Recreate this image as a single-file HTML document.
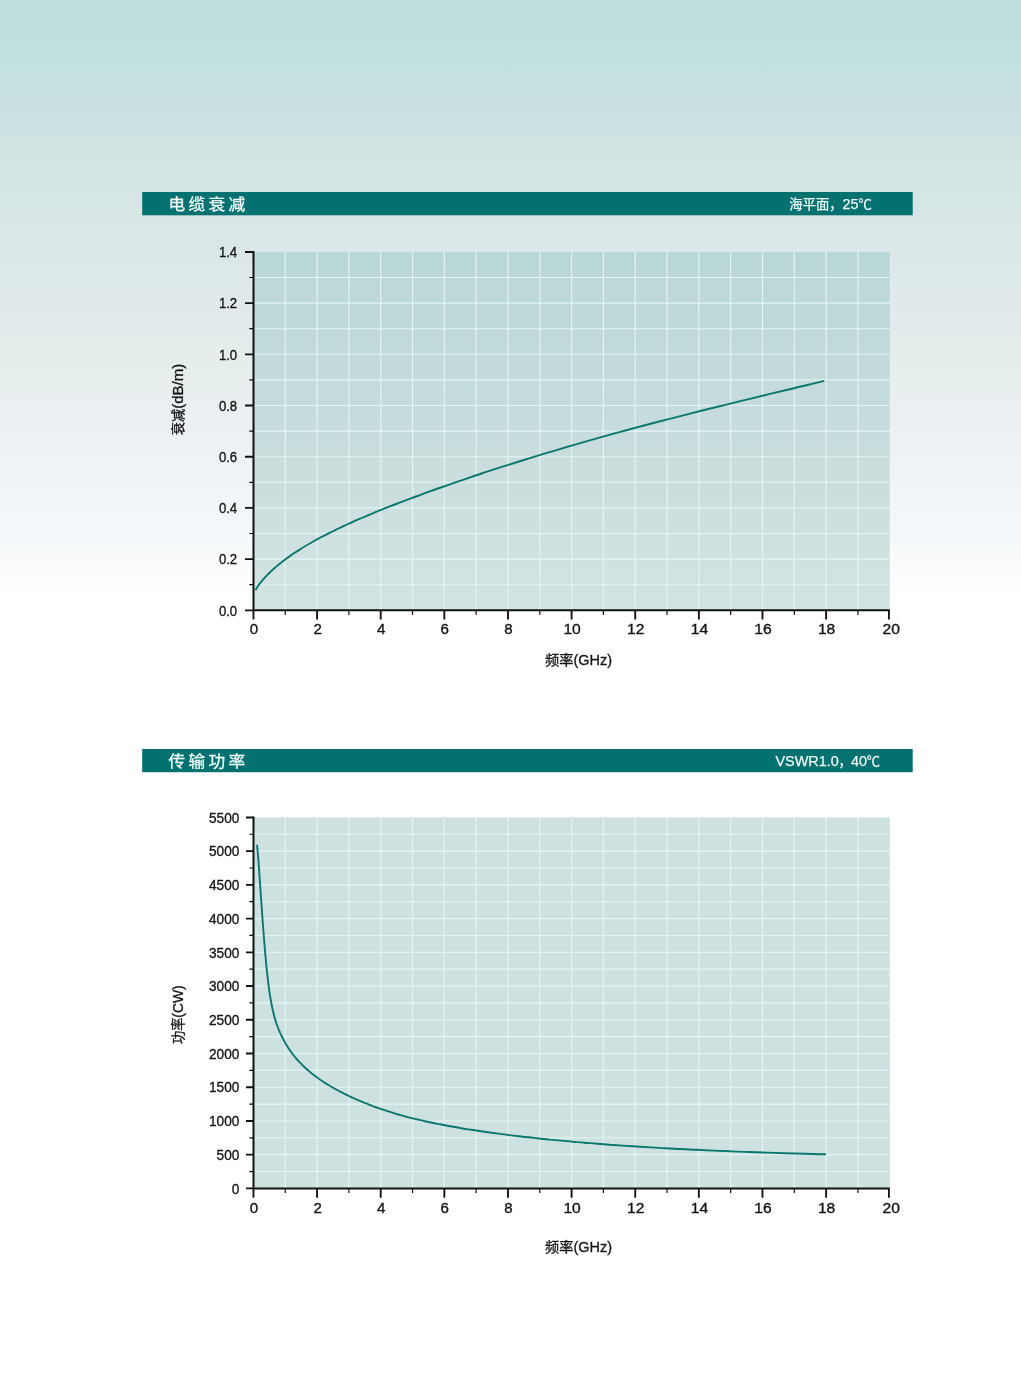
<!DOCTYPE html>
<html lang="zh-CN">
<head>
<meta charset="utf-8">
<title>电缆衰减 / 传输功率</title>
<style>
html,body{margin:0;padding:0;}
body{width:1021px;height:1374px;overflow:hidden;background:#fff;font-family:"Liberation Sans","Noto Sans CJK SC",sans-serif;}
#page{position:relative;width:1021px;height:1374px;overflow:hidden;
background:linear-gradient(to bottom,#bfe0df 0px,#c1e0e0 50px,#c9e1e2 100px,#d0e3e2 150px,#d6e6e5 200px,#dbe7e7 250px,#e0eaea 300px,#e7eeee 375px,#edf2f4 450px,#f3f7f9 520px,#f9fbfc 560px,#ffffff 595px,#ffffff 1374px);}
svg{position:absolute;left:0;top:0;display:block;}
text{font-family:"Liberation Sans","Noto Sans CJK SC",sans-serif;}
.tk{font-size:15.2px;fill:#141414;stroke:#141414;stroke-width:0.35px;}
.cj{font-family:"Noto Sans CJK SC","Liberation Sans",sans-serif;}
.ttl{font-size:15.6px;fill:#f0fbf9;letter-spacing:3.05px;stroke:#f0fbf9;stroke-width:0.3px;}
.sub{fill:#ecf8f6;stroke:#ecf8f6;stroke-width:0.25px;}
.ax{stroke:#111;stroke-width:2;fill:none;}
.mj{stroke:#111;stroke-width:1.85;fill:none;}
.mn{stroke:#111;stroke-width:1.2;fill:none;}
.gr{stroke:#e4f6f4;stroke-width:1.1;fill:none;}
.cv{stroke:#0a766e;stroke-width:1.9;fill:none;stroke-linecap:butt;stroke-linejoin:round;}
.lb{fill:#141414;stroke:#141414;stroke-width:0.3px;}
</style>
</head>
<body>
<div id="page">
<svg width="1021" height="1374" viewBox="0 0 1021 1374">
<defs>
<linearGradient id="pg1" x1="0" y1="0" x2="0" y2="1">
<stop offset="0" stop-color="#b9d7d7"/><stop offset="0.5" stop-color="#c7dcdc"/><stop offset="1" stop-color="#d3e3e2"/>
</linearGradient>
</defs>

<!-- chart 1 header -->
<rect x="142.2" y="192.0" width="770.5" height="23.3" fill="#02716f"/>
<text class="ttl cj" transform="translate(168.6 209.6) scale(1.07 1)">电缆衰减</text>
<text class="sub" y="209.0"><tspan class="cj" x="789.2" font-size="13.4">海平面，</tspan><tspan x="842.6" font-size="14.5" textLength="16.0" lengthAdjust="spacingAndGlyphs">25</tspan><tspan class="cj" x="858.6" font-size="13.4">℃</tspan></text>
<!-- chart 1 -->
<rect x="253.5" y="251.9" width="636.3" height="358.4" fill="url(#pg1)"/>
<path class="gr" d="M285.26 251.9 V610.3 M317.08 251.9 V610.3 M348.89 251.9 V610.3 M380.71 251.9 V610.3 M412.52 251.9 V610.3 M444.34 251.9 V610.3 M476.15 251.9 V610.3 M507.97 251.9 V610.3 M539.79 251.9 V610.3 M571.60 251.9 V610.3 M603.41 251.9 V610.3 M635.23 251.9 V610.3 M667.05 251.9 V610.3 M698.86 251.9 V610.3 M730.67 251.9 V610.3 M762.49 251.9 V610.3 M794.31 251.9 V610.3 M826.12 251.9 V610.3 M857.93 251.9 V610.3 M253.5 277.50 H889.8 M253.5 303.10 H889.8 M253.5 328.70 H889.8 M253.5 354.30 H889.8 M253.5 379.90 H889.8 M253.5 405.50 H889.8 M253.5 431.10 H889.8 M253.5 456.70 H889.8 M253.5 482.30 H889.8 M253.5 507.90 H889.8 M253.5 533.50 H889.8 M253.5 559.10 H889.8 M253.5 584.70 H889.8"/>
<path class="cv" d="M255.6 590.0 C255.8 589.6 256.4 588.5 256.9 587.8 C257.3 587.0 257.9 586.2 258.4 585.4 C259.0 584.6 259.6 583.8 260.3 582.9 C260.9 582.1 261.7 581.2 262.4 580.3 C263.2 579.4 264.0 578.5 264.8 577.6 C265.7 576.6 266.6 575.7 267.6 574.7 C268.5 573.7 269.5 572.7 270.6 571.7 C271.6 570.7 272.7 569.7 273.8 568.7 C275.0 567.7 276.2 566.7 277.4 565.6 C278.7 564.6 280.0 563.5 281.3 562.5 C282.6 561.4 284.0 560.4 285.5 559.3 C286.9 558.2 288.4 557.1 289.9 556.1 C291.4 555.0 293.0 553.9 294.6 552.8 C296.3 551.7 297.9 550.7 299.7 549.6 C301.4 548.5 303.1 547.4 305.0 546.3 C306.8 545.2 308.6 544.1 310.6 543.0 C312.5 541.9 314.4 540.8 316.5 539.7 C318.5 538.6 320.5 537.5 322.6 536.4 C324.7 535.3 326.9 534.2 329.1 533.1 C331.3 532.0 333.5 530.9 335.8 529.8 C338.1 528.7 340.5 527.6 342.9 526.4 C345.3 525.3 347.7 524.2 350.2 523.1 C352.7 521.9 355.2 520.8 357.8 519.7 C360.4 518.6 363.1 517.4 365.7 516.3 C368.4 515.1 371.2 514.0 373.9 512.8 C376.7 511.7 379.5 510.5 382.4 509.4 C385.3 508.2 388.2 507.1 391.2 505.9 C394.2 504.7 397.2 503.6 400.3 502.4 C403.3 501.2 406.4 500.0 409.6 498.8 C412.8 497.7 416.0 496.5 419.3 495.3 C422.5 494.1 425.8 492.9 429.2 491.7 C432.5 490.4 435.9 489.2 439.4 488.0 C442.8 486.8 446.3 485.6 449.9 484.3 C453.4 483.1 457.0 481.8 460.7 480.6 C464.3 479.3 468.0 478.1 471.8 476.8 C475.5 475.6 479.3 474.3 483.1 473.0 C487.0 471.8 490.9 470.5 494.8 469.2 C498.7 467.9 502.7 466.7 506.8 465.4 C510.8 464.1 514.9 462.8 519.0 461.5 C523.1 460.2 527.3 458.9 531.5 457.6 C535.7 456.3 540.0 455.0 544.3 453.7 C548.6 452.4 553.0 451.1 557.4 449.8 C561.8 448.5 566.3 447.1 570.8 445.8 C575.3 444.5 579.9 443.2 584.5 441.9 C589.1 440.6 593.8 439.2 598.5 437.9 C603.2 436.6 607.9 435.3 612.7 433.9 C617.5 432.6 622.4 431.3 627.3 430.0 C632.2 428.6 637.1 427.3 642.1 426.0 C647.1 424.7 652.1 423.4 657.2 422.0 C662.3 420.7 667.4 419.4 672.6 418.1 C677.8 416.7 683.0 415.4 688.3 414.1 C693.6 412.7 698.9 411.4 704.3 410.0 C709.7 408.7 715.1 407.4 720.6 406.0 C726.1 404.6 731.6 403.3 737.2 401.9 C742.7 400.6 748.3 399.2 754.0 397.8 C759.7 396.4 765.4 395.1 771.1 393.7 C776.9 392.3 782.7 390.9 788.6 389.5 C794.4 388.0 800.3 386.6 806.3 385.2 C812.2 383.8 821.3 381.6 824.3 380.9"/>
<path class="ax" d="M253.5 251.0 V610.3 H889.8"/>
<path class="mj" d="M245.0 252.00 H253.5 M245.0 303.10 H253.5 M245.0 354.30 H253.5 M245.0 405.50 H253.5 M245.0 456.70 H253.5 M245.0 507.90 H253.5 M245.0 559.10 H253.5 M245.0 610.30 H253.5 M253.45 610.3 V619.6 M317.08 610.3 V619.6 M380.71 610.3 V619.6 M444.34 610.3 V619.6 M507.97 610.3 V619.6 M571.60 610.3 V619.6 M635.23 610.3 V619.6 M698.86 610.3 V619.6 M762.49 610.3 V619.6 M826.12 610.3 V619.6 M888.90 610.3 V619.6"/>
<path class="mn" d="M249.3 277.50 H253.5 M249.3 328.70 H253.5 M249.3 379.90 H253.5 M249.3 431.10 H253.5 M249.3 482.30 H253.5 M249.3 533.50 H253.5 M249.3 584.70 H253.5 M285.26 610.3 V614.9 M348.89 610.3 V614.9 M412.52 610.3 V614.9 M476.15 610.3 V614.9 M539.79 610.3 V614.9 M603.41 610.3 V614.9 M667.05 610.3 V614.9 M730.67 610.3 V614.9 M794.31 610.3 V614.9 M857.93 610.3 V614.9"/>
<text class="tk" x="218.9" y="615.5" textLength="18.3" lengthAdjust="spacingAndGlyphs">0.0</text>
<text class="tk" x="218.9" y="564.3" textLength="18.3" lengthAdjust="spacingAndGlyphs">0.2</text>
<text class="tk" x="218.9" y="513.1" textLength="18.3" lengthAdjust="spacingAndGlyphs">0.4</text>
<text class="tk" x="218.9" y="461.9" textLength="18.3" lengthAdjust="spacingAndGlyphs">0.6</text>
<text class="tk" x="218.9" y="410.7" textLength="18.3" lengthAdjust="spacingAndGlyphs">0.8</text>
<text class="tk" x="218.9" y="359.5" textLength="18.3" lengthAdjust="spacingAndGlyphs">1.0</text>
<text class="tk" x="218.9" y="308.3" textLength="18.3" lengthAdjust="spacingAndGlyphs">1.2</text>
<text class="tk" x="218.9" y="257.1" textLength="18.3" lengthAdjust="spacingAndGlyphs">1.4</text>
<text class="tk" x="249.8" y="634.4" textLength="8.4" lengthAdjust="spacingAndGlyphs">0</text>
<text class="tk" x="313.4" y="634.4" textLength="8.4" lengthAdjust="spacingAndGlyphs">2</text>
<text class="tk" x="377.0" y="634.4" textLength="8.4" lengthAdjust="spacingAndGlyphs">4</text>
<text class="tk" x="440.6" y="634.4" textLength="8.4" lengthAdjust="spacingAndGlyphs">6</text>
<text class="tk" x="504.3" y="634.4" textLength="8.4" lengthAdjust="spacingAndGlyphs">8</text>
<text class="tk" x="563.4" y="634.4" textLength="17.4" lengthAdjust="spacingAndGlyphs">10</text>
<text class="tk" x="627.0" y="634.4" textLength="17.4" lengthAdjust="spacingAndGlyphs">12</text>
<text class="tk" x="690.7" y="634.4" textLength="17.4" lengthAdjust="spacingAndGlyphs">14</text>
<text class="tk" x="754.3" y="634.4" textLength="17.4" lengthAdjust="spacingAndGlyphs">16</text>
<text class="tk" x="817.9" y="634.4" textLength="17.4" lengthAdjust="spacingAndGlyphs">18</text>
<text class="tk" x="882.5" y="634.4" textLength="17.4" lengthAdjust="spacingAndGlyphs">20</text>
<text class="lb" transform="translate(182.7 435.2) rotate(-90)" font-size="13.2"><tspan class="cj">衰减</tspan><tspan font-size="14.6" textLength="45.0" lengthAdjust="spacingAndGlyphs">(dB/m)</tspan></text>
<text class="lb" x="545.0" y="665.4" font-size="14.2"><tspan class="cj">频率</tspan><tspan font-size="14" textLength="38.6" lengthAdjust="spacingAndGlyphs">(GHz)</tspan></text>
<!-- chart 2 header -->
<rect x="142.2" y="749.0" width="770.5" height="23.2" fill="#02716f"/>
<text class="ttl cj" transform="translate(168.6 766.5) scale(1.07 1)">传输功率</text>
<text class="sub" y="765.9"><tspan x="775.4" font-size="14.5" textLength="63.4" lengthAdjust="spacingAndGlyphs">VSWR1.0</tspan><tspan class="cj" x="838.4" font-size="13.4">，</tspan><tspan x="851.0" font-size="14.5" textLength="16.0" lengthAdjust="spacingAndGlyphs">40</tspan><tspan class="cj" x="866.8" font-size="13.4">℃</tspan></text>
<!-- chart 2 -->
<rect x="253.5" y="817.4" width="636.3" height="371.0" fill="#cde2e0"/>
<path class="gr" d="M285.26 817.4 V1188.4 M317.08 817.4 V1188.4 M348.89 817.4 V1188.4 M380.71 817.4 V1188.4 M412.52 817.4 V1188.4 M444.34 817.4 V1188.4 M476.15 817.4 V1188.4 M507.97 817.4 V1188.4 M539.79 817.4 V1188.4 M571.60 817.4 V1188.4 M603.41 817.4 V1188.4 M635.23 817.4 V1188.4 M667.05 817.4 V1188.4 M698.86 817.4 V1188.4 M730.67 817.4 V1188.4 M762.49 817.4 V1188.4 M794.31 817.4 V1188.4 M826.12 817.4 V1188.4 M857.93 817.4 V1188.4 M253.5 834.26 H889.8 M253.5 851.13 H889.8 M253.5 867.99 H889.8 M253.5 884.85 H889.8 M253.5 901.72 H889.8 M253.5 918.58 H889.8 M253.5 935.45 H889.8 M253.5 952.31 H889.8 M253.5 969.17 H889.8 M253.5 986.04 H889.8 M253.5 1002.90 H889.8 M253.5 1019.76 H889.8 M253.5 1036.63 H889.8 M253.5 1053.49 H889.8 M253.5 1070.35 H889.8 M253.5 1087.22 H889.8 M253.5 1104.08 H889.8 M253.5 1120.95 H889.8 M253.5 1137.81 H889.8 M253.5 1154.67 H889.8 M253.5 1171.54 H889.8"/>
<path class="cv" d="M257.0 844.8 C257.0 845.0 257.1 845.5 257.1 846.0 C257.2 846.4 257.2 846.8 257.3 847.3 C257.3 847.7 257.4 848.2 257.4 848.7 C257.5 849.2 257.5 849.7 257.6 850.3 C257.6 850.8 257.7 851.4 257.7 852.0 C257.8 852.6 257.8 853.2 257.9 853.8 C257.9 854.5 258.0 855.1 258.0 855.8 C258.1 856.5 258.1 857.2 258.2 858.0 C258.3 858.7 258.3 859.5 258.4 860.3 C258.4 861.1 258.5 861.9 258.6 862.7 C258.6 863.5 258.7 864.4 258.8 865.3 C258.8 866.2 258.9 867.1 259.0 868.0 C259.0 868.9 259.1 869.9 259.2 870.9 C259.2 871.8 259.3 872.8 259.4 873.9 C259.4 874.9 259.5 875.9 259.6 877.0 C259.7 878.1 259.7 879.2 259.8 880.3 C259.9 881.4 260.0 882.6 260.1 883.7 C260.1 884.9 260.2 886.1 260.3 887.3 C260.4 888.5 260.5 889.8 260.6 891.0 C260.6 892.3 260.7 893.6 260.8 894.9 C260.9 896.2 261.0 897.5 261.1 898.8 C261.2 900.2 261.3 901.5 261.4 902.9 C261.5 904.3 261.6 905.7 261.7 907.1 C261.8 908.5 261.9 910.0 262.0 911.5 C262.1 912.9 262.2 914.4 262.3 915.9 C262.4 917.4 262.5 918.9 262.6 920.5 C262.7 922.0 262.9 923.5 263.0 925.1 C263.1 926.7 263.2 928.3 263.3 929.9 C263.5 931.5 263.6 933.1 263.7 934.7 C263.8 936.3 264.0 938.0 264.1 939.6 C264.2 941.3 264.3 942.9 264.5 944.6 C264.6 946.2 264.8 947.9 264.9 949.5 C265.0 951.2 265.2 952.8 265.3 954.5 C265.5 956.1 265.6 957.7 265.8 959.3 C265.9 961.0 266.1 962.6 266.2 964.2 C266.4 965.8 266.5 967.4 266.7 968.9 C266.9 970.5 267.0 972.1 267.2 973.6 C267.4 975.1 267.5 976.6 267.7 978.1 C267.9 979.6 268.0 981.1 268.2 982.5 C268.4 984.0 268.6 985.4 268.8 986.8 C269.0 988.2 269.2 989.6 269.3 990.9 C269.5 992.3 269.7 993.6 269.9 994.9 C270.1 996.2 270.3 997.5 270.6 998.7 C270.8 1000.0 271.0 1001.2 271.2 1002.4 C271.4 1003.5 271.6 1004.7 271.9 1005.8 C272.1 1007.0 272.3 1008.1 272.5 1009.1 C272.8 1010.2 273.0 1011.3 273.3 1012.3 C273.5 1013.3 273.7 1014.3 274.0 1015.2 C274.2 1016.2 274.5 1017.1 274.8 1018.0 C275.0 1018.9 275.3 1019.8 275.5 1020.7 C275.8 1021.5 276.1 1022.4 276.4 1023.2 C276.6 1024.0 276.9 1024.8 277.2 1025.6 C277.5 1026.4 277.8 1027.2 278.1 1028.0 C278.4 1028.7 278.7 1029.5 279.0 1030.2 C279.3 1031.0 279.7 1031.7 280.0 1032.5 C280.3 1033.2 280.6 1034.0 281.0 1034.7 C281.3 1035.4 281.6 1036.1 282.0 1036.8 C282.3 1037.5 282.7 1038.2 283.1 1038.9 C283.4 1039.6 283.8 1040.3 284.2 1041.0 C284.5 1041.7 284.9 1042.4 285.3 1043.0 C285.7 1043.7 286.1 1044.4 286.5 1045.1 C286.9 1045.7 287.3 1046.4 287.7 1047.0 C288.1 1047.7 288.6 1048.3 289.0 1049.0 C289.4 1049.6 289.9 1050.3 290.3 1050.9 C290.8 1051.5 291.2 1052.2 291.7 1052.8 C292.2 1053.4 292.6 1054.0 293.1 1054.7 C293.6 1055.3 294.1 1055.9 294.6 1056.5 C295.1 1057.1 295.6 1057.7 296.1 1058.4 C296.6 1059.0 297.2 1059.6 297.7 1060.2 C298.3 1060.8 298.8 1061.4 299.4 1062.0 C299.9 1062.6 300.5 1063.2 301.1 1063.7 C301.7 1064.3 302.2 1064.9 302.8 1065.5 C303.5 1066.1 304.1 1066.7 304.7 1067.3 C305.3 1067.9 306.0 1068.4 306.6 1069.0 C307.2 1069.6 307.9 1070.2 308.6 1070.7 C309.3 1071.3 309.9 1071.9 310.6 1072.5 C311.3 1073.0 312.0 1073.6 312.8 1074.2 C313.5 1074.8 314.2 1075.3 315.0 1075.9 C315.7 1076.5 316.5 1077.0 317.3 1077.6 C318.0 1078.2 318.8 1078.7 319.6 1079.3 C320.4 1079.8 321.3 1080.4 322.1 1081.0 C322.9 1081.5 323.8 1082.1 324.7 1082.7 C325.5 1083.2 326.4 1083.8 327.3 1084.3 C328.2 1084.9 329.1 1085.5 330.1 1086.0 C331.0 1086.6 331.9 1087.1 332.9 1087.7 C333.9 1088.2 334.9 1088.8 335.9 1089.3 C336.9 1089.9 337.9 1090.5 338.9 1091.0 C340.0 1091.6 341.1 1092.1 342.1 1092.7 C343.2 1093.2 344.3 1093.8 345.4 1094.3 C346.6 1094.9 347.7 1095.4 348.9 1096.0 C350.0 1096.5 351.2 1097.1 352.4 1097.6 C353.6 1098.2 354.8 1098.7 356.1 1099.3 C357.4 1099.8 358.6 1100.4 359.9 1100.9 C361.2 1101.5 362.5 1102.0 363.9 1102.6 C365.2 1103.1 366.6 1103.7 368.0 1104.2 C369.4 1104.8 370.8 1105.3 372.3 1105.9 C373.7 1106.4 375.2 1106.9 376.7 1107.5 C378.2 1108.0 379.7 1108.6 381.3 1109.1 C382.8 1109.6 384.4 1110.2 386.0 1110.7 C387.7 1111.2 389.3 1111.7 391.0 1112.2 C392.7 1112.8 394.4 1113.3 396.1 1113.8 C397.8 1114.3 399.6 1114.8 401.4 1115.3 C403.2 1115.8 405.1 1116.3 406.9 1116.8 C408.8 1117.3 410.7 1117.8 412.7 1118.3 C414.6 1118.8 416.6 1119.3 418.6 1119.7 C420.6 1120.2 422.6 1120.7 424.7 1121.2 C426.8 1121.6 428.9 1122.1 431.1 1122.5 C433.3 1123.0 435.5 1123.4 437.7 1123.9 C440.0 1124.3 442.3 1124.8 444.6 1125.2 C446.9 1125.7 449.3 1126.1 451.7 1126.5 C454.1 1127.0 456.6 1127.4 459.1 1127.8 C461.6 1128.2 464.2 1128.6 466.8 1129.1 C469.4 1129.5 472.0 1129.9 474.7 1130.3 C477.4 1130.7 480.1 1131.1 482.9 1131.5 C485.7 1131.9 488.6 1132.3 491.5 1132.7 C494.4 1133.1 497.3 1133.5 500.4 1133.9 C503.4 1134.3 506.4 1134.7 509.6 1135.1 C512.7 1135.4 515.9 1135.8 519.1 1136.2 C522.3 1136.6 525.6 1137.0 529.0 1137.3 C532.3 1137.7 535.8 1138.1 539.2 1138.5 C542.7 1138.8 546.3 1139.2 549.9 1139.6 C553.5 1139.9 557.2 1140.3 560.9 1140.6 C564.7 1141.0 568.5 1141.3 572.4 1141.7 C576.3 1142.0 580.2 1142.4 584.3 1142.7 C588.3 1143.0 592.4 1143.4 596.6 1143.7 C600.8 1144.0 605.0 1144.3 609.4 1144.7 C613.7 1145.0 618.1 1145.3 622.6 1145.6 C627.1 1145.9 631.7 1146.2 636.4 1146.5 C641.0 1146.8 645.8 1147.1 650.6 1147.4 C655.5 1147.7 660.4 1148.0 665.4 1148.2 C670.5 1148.5 675.6 1148.8 680.8 1149.0 C686.0 1149.3 691.3 1149.6 696.7 1149.8 C702.1 1150.1 707.6 1150.3 713.2 1150.6 C718.8 1150.8 724.5 1151.1 730.3 1151.3 C736.1 1151.5 742.1 1151.7 748.1 1152.0 C754.1 1152.2 760.3 1152.4 766.5 1152.6 C772.8 1152.8 779.1 1153.0 785.6 1153.2 C792.1 1153.4 798.7 1153.6 805.4 1153.8 C812.2 1154.0 822.6 1154.3 826.0 1154.3"/>
<path class="ax" d="M253.5 816.5 V1188.4 H889.8"/>
<path class="mj" d="M246.0 817.50 H253.5 M246.0 851.13 H253.5 M246.0 884.85 H253.5 M246.0 918.58 H253.5 M246.0 952.31 H253.5 M246.0 986.04 H253.5 M246.0 1019.76 H253.5 M246.0 1053.49 H253.5 M246.0 1087.22 H253.5 M246.0 1120.95 H253.5 M246.0 1154.67 H253.5 M246.0 1188.40 H253.5 M253.45 1188.4 V1197.7 M317.08 1188.4 V1197.7 M380.71 1188.4 V1197.7 M444.34 1188.4 V1197.7 M507.97 1188.4 V1197.7 M571.60 1188.4 V1197.7 M635.23 1188.4 V1197.7 M698.86 1188.4 V1197.7 M762.49 1188.4 V1197.7 M826.12 1188.4 V1197.7 M888.90 1188.4 V1197.7"/>
<path class="mn" d="M249.3 834.26 H253.5 M249.3 867.99 H253.5 M249.3 901.72 H253.5 M249.3 935.45 H253.5 M249.3 969.17 H253.5 M249.3 1002.90 H253.5 M249.3 1036.63 H253.5 M249.3 1070.35 H253.5 M249.3 1104.08 H253.5 M249.3 1137.81 H253.5 M249.3 1171.54 H253.5 M285.26 1188.4 V1193.0 M348.89 1188.4 V1193.0 M412.52 1188.4 V1193.0 M476.15 1188.4 V1193.0 M539.79 1188.4 V1193.0 M603.41 1188.4 V1193.0 M667.05 1188.4 V1193.0 M730.67 1188.4 V1193.0 M794.31 1188.4 V1193.0 M857.93 1188.4 V1193.0"/>
<text class="tk" x="231.8" y="1193.6" textLength="7.6" lengthAdjust="spacingAndGlyphs">0</text>
<text class="tk" x="216.6" y="1159.9" textLength="22.8" lengthAdjust="spacingAndGlyphs">500</text>
<text class="tk" x="209.0" y="1126.1" textLength="30.4" lengthAdjust="spacingAndGlyphs">1000</text>
<text class="tk" x="209.0" y="1092.4" textLength="30.4" lengthAdjust="spacingAndGlyphs">1500</text>
<text class="tk" x="209.0" y="1058.7" textLength="30.4" lengthAdjust="spacingAndGlyphs">2000</text>
<text class="tk" x="209.0" y="1025.0" textLength="30.4" lengthAdjust="spacingAndGlyphs">2500</text>
<text class="tk" x="209.0" y="991.2" textLength="30.4" lengthAdjust="spacingAndGlyphs">3000</text>
<text class="tk" x="209.0" y="957.5" textLength="30.4" lengthAdjust="spacingAndGlyphs">3500</text>
<text class="tk" x="209.0" y="923.8" textLength="30.4" lengthAdjust="spacingAndGlyphs">4000</text>
<text class="tk" x="209.0" y="890.1" textLength="30.4" lengthAdjust="spacingAndGlyphs">4500</text>
<text class="tk" x="209.0" y="856.3" textLength="30.4" lengthAdjust="spacingAndGlyphs">5000</text>
<text class="tk" x="209.0" y="822.6" textLength="30.4" lengthAdjust="spacingAndGlyphs">5500</text>
<text class="tk" x="249.8" y="1212.5" textLength="8.4" lengthAdjust="spacingAndGlyphs">0</text>
<text class="tk" x="313.4" y="1212.5" textLength="8.4" lengthAdjust="spacingAndGlyphs">2</text>
<text class="tk" x="377.0" y="1212.5" textLength="8.4" lengthAdjust="spacingAndGlyphs">4</text>
<text class="tk" x="440.6" y="1212.5" textLength="8.4" lengthAdjust="spacingAndGlyphs">6</text>
<text class="tk" x="504.3" y="1212.5" textLength="8.4" lengthAdjust="spacingAndGlyphs">8</text>
<text class="tk" x="563.4" y="1212.5" textLength="17.4" lengthAdjust="spacingAndGlyphs">10</text>
<text class="tk" x="627.0" y="1212.5" textLength="17.4" lengthAdjust="spacingAndGlyphs">12</text>
<text class="tk" x="690.7" y="1212.5" textLength="17.4" lengthAdjust="spacingAndGlyphs">14</text>
<text class="tk" x="754.3" y="1212.5" textLength="17.4" lengthAdjust="spacingAndGlyphs">16</text>
<text class="tk" x="817.9" y="1212.5" textLength="17.4" lengthAdjust="spacingAndGlyphs">18</text>
<text class="tk" x="882.5" y="1212.5" textLength="17.4" lengthAdjust="spacingAndGlyphs">20</text>
<text class="lb" transform="translate(182.7 1044.0) rotate(-90)" font-size="13.2"><tspan class="cj">功率</tspan><tspan font-size="14.6" textLength="32.3" lengthAdjust="spacingAndGlyphs">(CW)</tspan></text>
<text class="lb" x="545.0" y="1252.0" font-size="14.2"><tspan class="cj">频率</tspan><tspan font-size="14" textLength="38.6" lengthAdjust="spacingAndGlyphs">(GHz)</tspan></text>
</svg>
</div>
</body>
</html>
